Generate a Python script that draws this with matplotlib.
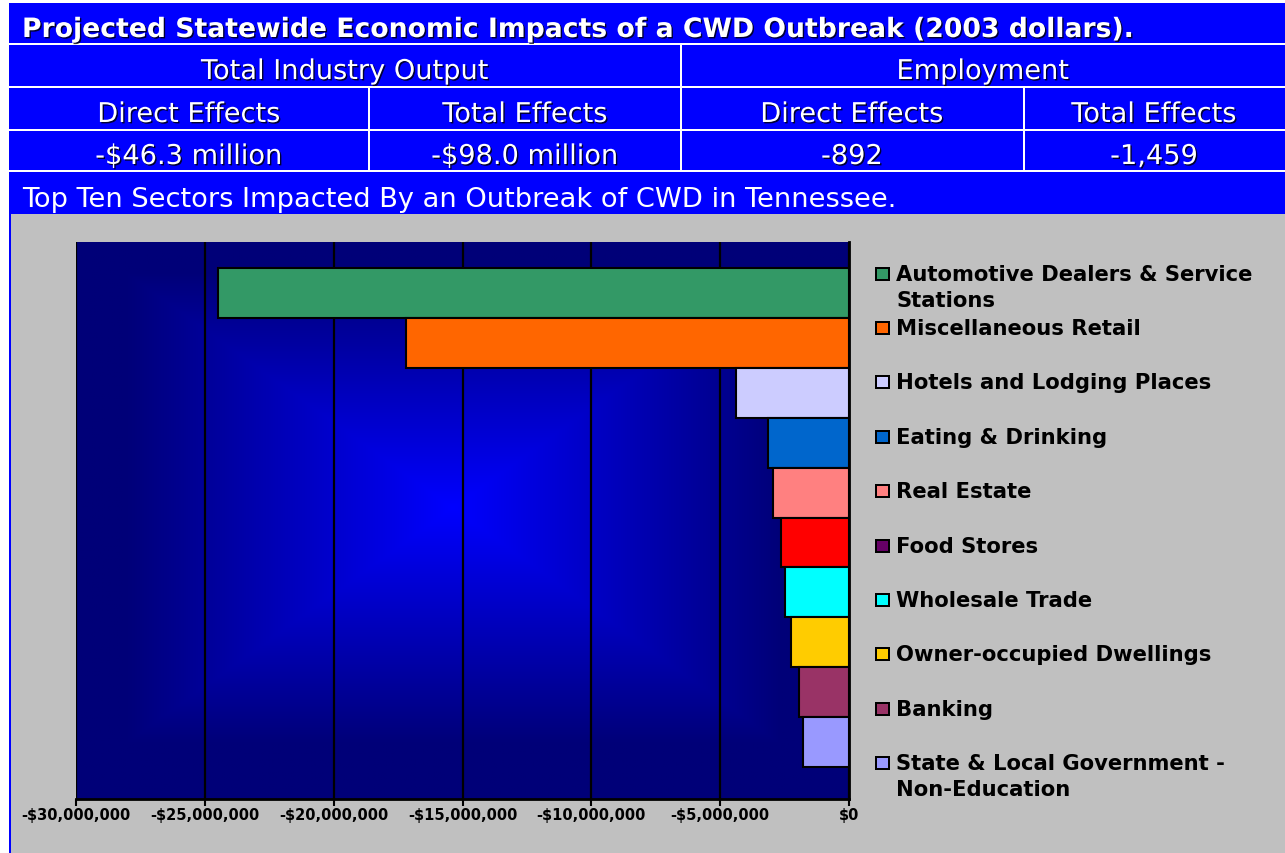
import matplotlib
matplotlib.use("Agg")
import matplotlib.pyplot as plt
import matplotlib.patheffects as pe
from matplotlib.patches import Rectangle
from matplotlib.ticker import FuncFormatter
import numpy as np

# ---- data ----
title = "Projected Statewide Economic Impacts of a CWD Outbreak (2003 dollars)."
groups = ["Total Industry Output", "Employment"]
effects = ["Direct Effects", "Total Effects", "Direct Effects", "Total Effects"]
effect_values = ["-$46.3 million", "-$98.0 million", "-892", "-1,459"]
subtitle = "Top Ten Sectors Impacted By an Outbreak of CWD in Tennessee."

sectors = ["Automotive Dealers & Service\nStations", "Miscellaneous Retail",
           "Hotels and Lodging Places", "Eating & Drinking", "Real Estate",
           "Food Stores", "Wholesale Trade", "Owner-occupied Dwellings",
           "Banking", "State & Local Government -\nNon-Education"]
impact = [-24.5e6, -17.2e6, -4.4e6, -3.15e6, -2.95e6,
          -2.65e6, -2.5e6, -2.25e6, -1.95e6, -1.8e6]
bar_colors = ["#339966", "#FF6600", "#CCCCFF", "#0066CC", "#FF8080",
              "#FF0000", "#00FFFF", "#FFCC00", "#993366", "#9999FF"]
legend_colors = ["#339966", "#FF6600", "#CCCCFF", "#0066CC", "#FF8080",
                 "#660066", "#00FFFF", "#FFCC00", "#993366", "#9999FF"]

W, H = 1285, 854
fig = plt.figure(figsize=(W/100, H/100), dpi=100, facecolor="white")

def fx(x):
    return x / W
def fy(y):
    return 1 - y / H

def box(x0, y0, x1, y1, c, z=0):
    fig.add_artist(Rectangle((fx(x0), fy(y1)), (x1-x0)/W, (y1-y0)/H,
                             transform=fig.transFigure, color=c, lw=0, zorder=z))

# header table + grey panel
box(9, 4, W, 215, "#0000FF")
box(9, 215, W, H, "#0000FF")
box(11, 215, W, H, "#C0C0C0")
for yy in [44, 87, 130, 171]:
    box(9, yy, W, yy+2, "white", 1)
box(680, 44, 682, 172, "white", 1)
box(368, 87, 370, 172, "white", 1)
box(1023, 87, 1025, 172, "white", 1)

shadow = [pe.SimplePatchShadow(offset=(1, -1), shadow_rgbFace="black", alpha=0.8), pe.Normal()]
hdr = dict(color="white", family="DejaVu Sans", path_effects=shadow, zorder=3)
fig.text(fx(22), fy(31), title, ha="left", va="center", fontsize=19.2,
         fontweight="bold", **hdr)
for label, xc in zip(groups, [345, 983]):
    fig.text(fx(xc), fy(73), label, ha="center", va="center", fontsize=19.6, **hdr)
for label, val, xc in zip(effects, effect_values, [189, 525, 852, 1154]):
    fig.text(fx(xc), fy(116), label, ha="center", va="center", fontsize=19.6, **hdr)
    fig.text(fx(xc), fy(158), val, ha="center", va="center", fontsize=19.6, **hdr)
fig.text(fx(22), fy(200), subtitle, ha="left", va="center", fontsize=19.6,
         color="white", family="DejaVu Sans", zorder=3)

# ---- chart ----
ax = fig.add_axes([fx(76), fy(800), (849-76)/W, (800-243)/H])
ax.set_zorder(2)

# rectangular "from centre" gradient: bright blue in the middle, navy at edges
gx = np.linspace(-1, 1, 400)
gy = np.linspace(-1, 1, 300)
X, Y = np.meshgrid(gx, gy)
t = np.maximum(np.abs(X + 0.025), np.abs(Y - 0.045))
t = np.clip(t / 0.85, 0, 1)
c0 = np.array([0, 0, 255]) / 255
c1 = np.array([0, 0, 120]) / 255
img = c0 + (c1 - c0) * t[..., None]
ax.imshow(img, extent=[0, 1, 0, 1], origin="lower", transform=ax.transAxes,
          aspect="auto", zorder=0)

ypos = np.arange(len(sectors))
ax.barh(ypos, impact, height=1.0, color=bar_colors, edgecolor="black",
        linewidth=1.5, zorder=3)
ax.set_xlim(-30e6, 0)
ax.set_ylim(len(sectors) - 0.5 + 0.64, -0.5 - 0.52)
ax.set_xticks(np.arange(-30e6, 1, 5e6))
ax.xaxis.set_major_formatter(FuncFormatter(
    lambda v, p: ("-" if v < 0 else "") + "${:,.0f}".format(abs(v))))
ax.grid(axis="x", color="black", linewidth=1.6, zorder=2)
ax.set_axisbelow(False)
ax.set_yticks([])
ax.tick_params(axis="x", length=5, width=1.5, direction="out", pad=1)
for lab in ax.get_xticklabels():
    lab.set_fontweight("bold")
    lab.set_fontsize(10.5)
    lab.set_family("DejaVu Sans")
ax.spines["top"].set_visible(False)
ax.spines["left"].set_visible(False)
ax.spines["bottom"].set_linewidth(2)
ax.spines["right"].set_linewidth(2)

# ---- legend ----
leg_y = [275] + [329 + 54.4*i for i in range(len(sectors) - 1)]
for name, col, yy in zip(sectors, legend_colors, leg_y):
    box(875, yy-7, 890, yy+7, "black", 3)
    box(877, yy-5, 888, yy+5, col, 4)
    for k, line in enumerate(name.split("\n")):
        fig.text(fx(896), fy(yy + 26*k), line, ha="left", va="center",
                 fontsize=15.2, fontweight="bold", color="black",
                 family="DejaVu Sans", zorder=5)

fig.savefig("out.png", dpi=100, facecolor="white")
